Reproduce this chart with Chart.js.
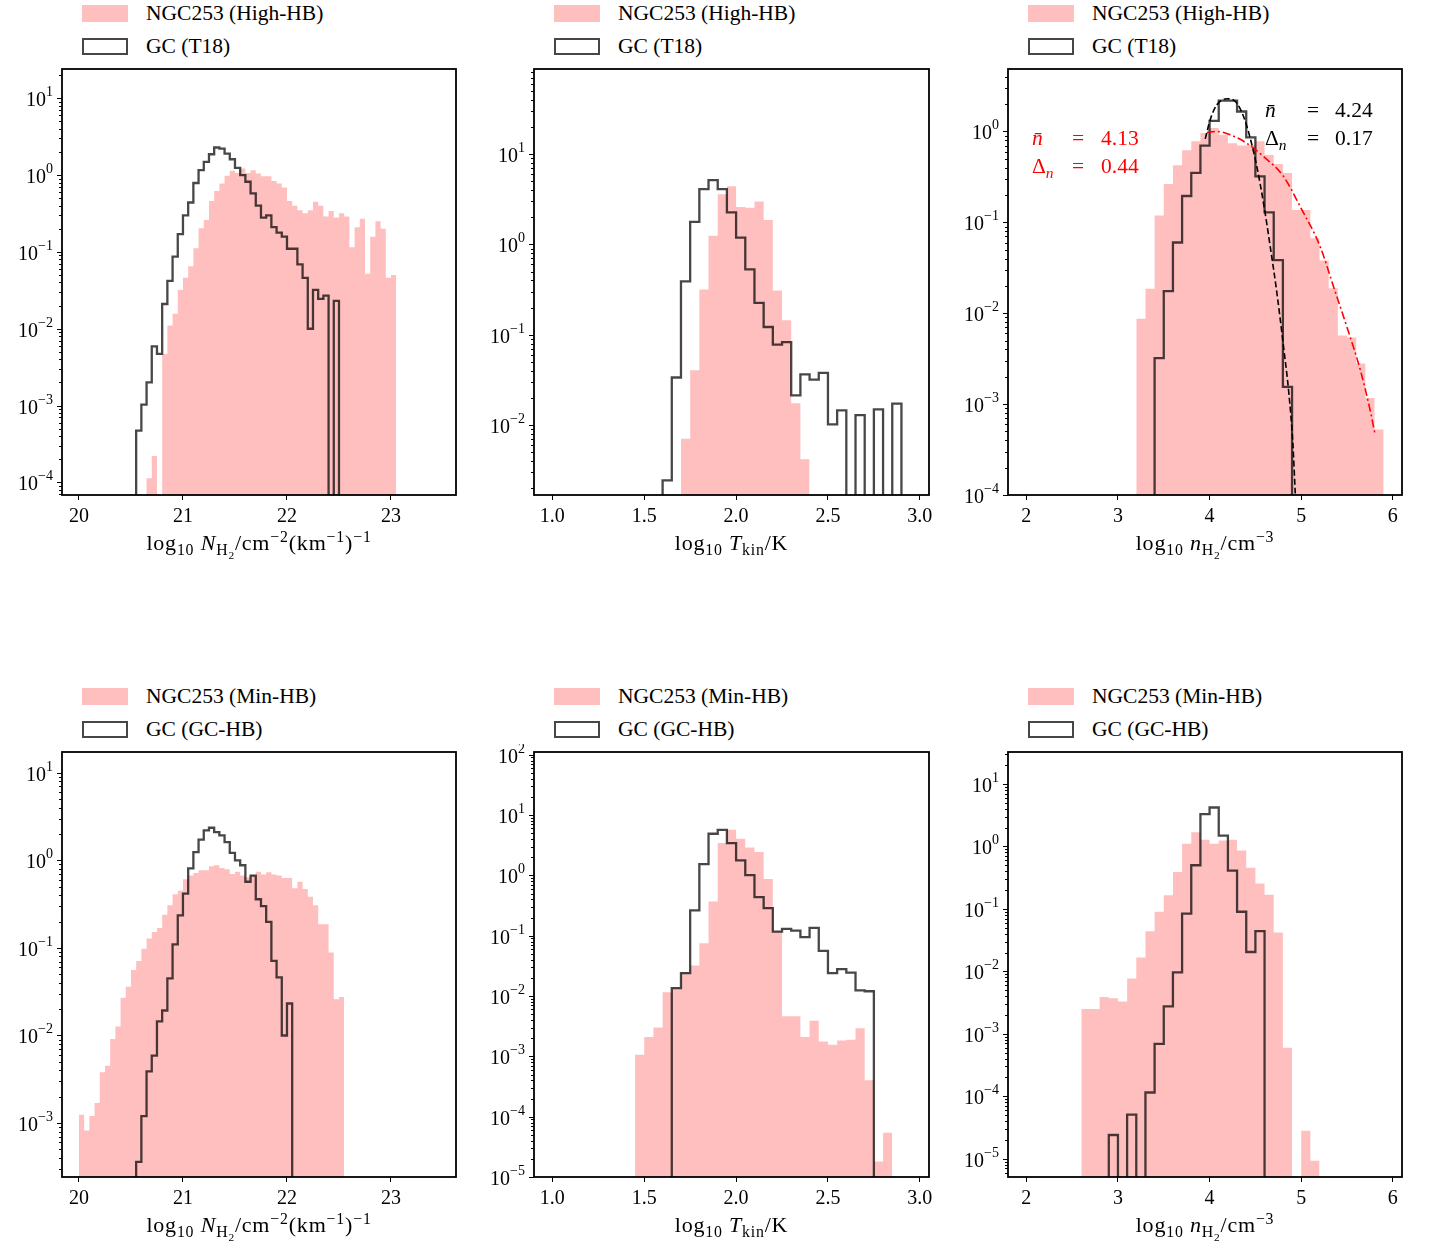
<!DOCTYPE html>
<html>
<head>
<meta charset="utf-8">
<title>NGC253 vs GC histograms</title>
<script src="https://cdn.jsdelivr.net/npm/chart.js@4.4.1/dist/chart.umd.min.js"></script>
<style>
  body { margin: 0; background: #fff; font-family: "Liberation Serif", serif; color: #000; }
  #page { position: relative; width: 1429px; height: 1241px; overflow: hidden; }
  canvas { position: absolute; }
  .txt { position: absolute; font-size: 21.5px; line-height: 1; white-space: nowrap; transform: translateY(-50%); }
  .mid { transform: translate(-50%, -50%); font-size: 22px; letter-spacing: 0.8px; }
  .sw { position: absolute; width: 46px; height: 17px; box-sizing: border-box; }
  sub, sup { font-size: 0.72em; line-height: 0; position: relative; vertical-align: baseline; }
  sub { top: 0.32em; }
  sup { top: -0.5em; }
</style>
</head>
<body>
<div id="page"></div>
<script>
// ---- top row: NGC253 (High-HB) vs GC (T18) ----
// column density, bins of 0.05 dex
const colBin = 0.05;
const colHighStart = 20.55;
const colHigh = [0, 0, 1.13e-4, 2.2e-4, 0, 4.7e-3, 0.011, 0.0157, 0.032, 0.046,
  0.065, 0.112, 0.203, 0.26, 0.46, 0.62, 0.78, 0.98, 1.14, 1.07,
  1.22, 1.07, 1.16, 1.05, 0.97, 0.97, 0.84, 0.78, 0.69, 0.46,
  0.40, 0.35, 0.32, 0.35, 0.45, 0.40, 0.29, 0.34, 0.28, 0.32,
  0.29, 0.115, 0.21, 0.27, 0.052, 0.158, 0.25, 0.20, 0.046, 0.050];
const colT18Start = 20.55;
const colT18 = [4.7e-4, 1.03e-3, 2.0e-3, 5.9e-3, 4.7e-3, 0.021, 0.042, 0.087, 0.171, 0.30,
  0.44, 0.79, 1.16, 1.49, 1.87, 2.29, 2.22, 1.91, 1.61, 1.24,
  1.0, 0.82, 0.58, 0.40, 0.28, 0.30, 0.21, 0.178, 0.158, 0.11,
  0.11, 0.069, 0.046, 0.010, 0.032, 0.0245, 0.027, 0, 0.023];

// kinetic temperature, bins of 0.05 dex
const tkBin = 0.05;
const tkHighStart = 1.70;
const tkHigh = [7.1e-3, 0.0405, 0.318, 1.25, 3.6, 4.4, 2.6, 2.54, 2.99, 1.86, 0.31, 0.145, 0.0175, 4.2e-3];
const tkT18Start = 1.60;
const tkT18 = [2.45e-3, 0.0337, 0.39, 1.78, 4.1, 5.15, 4.1, 2.26, 1.19, 0.53,
  0.226, 0.122, 0.078, 0.083, 0.0214, 0.0366, 0.032, 0.038, 0.0102, 0.0146,
  0, 0.0129, 0, 0.0150, 0, 0.0173];

// volume density, bins of 0.1 dex
const denBin = 0.1;
const denHighStart = 3.2;
const denHigh = [8.7e-3, 0.0186, 0.119, 0.265, 0.425, 0.62, 0.78, 0.96, 1.09, 0.92,
  0.74, 0.70, 0.71, 0.78, 0.55, 0.44, 0.35, 0.137, 0.137, 0.067,
  0.038, 0.0188, 5.7e-3, 5.4e-3, 2.8e-3, 1.17e-3, 5.25e-4];
const denT18Start = 3.4;
const denT18 = [3.2e-3, 0.0175, 0.060, 0.195, 0.35, 0.70, 1.31, 2.18, 2.18, 1.66, 0.86, 0.32, 0.129, 0.0385, 1.55e-3];

// fitted curves
const fitT18X = [3.953, 4.007, 4.08, 4.189, 4.28, 4.371, 4.444, 4.516, 4.589, 4.662, 4.735, 4.807, 4.862, 4.909, 4.935];
const fitT18Y = [0.83, 1.35, 1.97, 2.29, 2.14, 1.46, 0.84, 0.41, 0.162, 0.054, 0.0166, 4.3e-3, 1.42e-3, 3.7e-4, 1.04e-4];
const fitHighX = [3.971, 4.08, 4.225, 4.407, 4.589, 4.807, 4.989, 5.207, 5.353, 5.498, 5.644, 5.753, 5.807];
const fitHighY = [0.975, 1.0, 0.92, 0.74, 0.53, 0.32, 0.149, 0.054, 0.0196, 7.1e-3, 2.4e-3, 8.5e-4, 4.6e-4];

// ---- bottom row: NGC253 (Min-HB) vs GC (GC-HB) ----
const colMinStart = 20.0;
const colMin = [1.24e-3, 8.2e-4, 1.2e-3, 1.7e-3, 3.8e-3, 4.5e-3, 9.1e-3, 0.0127, 0.0269, 0.036,
  0.056, 0.071, 0.098, 0.128, 0.152, 0.169, 0.24, 0.307, 0.41, 0.45,
  0.61, 0.67, 0.72, 0.77, 0.77, 0.86, 0.88, 0.82, 0.79, 0.70,
  0.74, 0.67, 0.64, 0.68, 0.74, 0.69, 0.73, 0.69, 0.67, 0.63,
  0.63, 0.48, 0.57, 0.47, 0.385, 0.307, 0.186, 0.186, 0.089, 0.026, 0.0275];
const colGCStart = 20.55;
const colGC = [3.6e-4, 1.2e-3, 3.9e-3, 5.9e-3, 0.0145, 0.0193, 0.045, 0.110, 0.236, 0.417,
  0.81, 1.24, 1.73, 2.2, 2.36, 2.1, 1.93, 1.62, 1.22, 1.0,
  0.88, 0.57, 0.67, 0.36, 0.30, 0.198, 0.071, 0.046, 0.010, 0.0232];

const tkMinStart = 1.45;
const tkMin = [1.06e-3, 2.1e-3, 3.0e-3, 0.0116, 0.0135, 0.024, 0.032, 0.075, 0.37, 3.43,
  5.7, 4.05, 2.9, 2.43, 0.87, 0.117, 4.6e-3, 4.6e-3, 2.1e-3, 3.9e-3,
  1.76e-3, 1.55e-3, 1.83e-3, 1.88e-3, 2.93e-3, 4.0e-4, 1.8e-5, 5.4e-5];
const tkGCStart = 1.65;
const tkGC = [0.0135, 0.024, 0.262, 1.54, 4.9, 5.7, 3.43, 1.77, 1.01, 0.436,
  0.286, 0.117, 0.13, 0.121, 0.095, 0.135, 0.056, 0.024, 0.0279, 0.0245, 0.0124, 0.012];

const denMinStart = 2.6;
const denMin = [2.5e-3, 2.5e-3, 3.9e-3, 3.7e-3, 3.3e-3, 7.7e-3, 0.0166, 0.044, 0.090, 0.165,
  0.39, 1.1, 1.68, 1.28, 1.1, 1.24, 1.28, 0.86, 0.457, 0.254,
  0.169, 0.042, 6.0e-4, 0, 2.8e-5, 9.3e-6];
const denGCStart = 2.9;
const denGC = [2.4e-5, 0, 5.1e-5, 0, 1.15e-4, 6.9e-4, 2.75e-3, 9.6e-3, 0.084, 0.50,
  3.3, 4.2, 1.49, 0.41, 0.090, 0.0204, 0.044];

// tick labels
const xTicksCol = [20, 21, 22, 23];
const xTicksTk = [1.0, 1.5, 2.0, 2.5, 3.0];
const xTicksDen = [2, 3, 4, 5, 6];

const page = document.getElementById('page');
const PINK = 'rgba(255, 0, 0, 0.25)';
const STEP = 'rgba(0, 0, 0, 0.72)';
const FONT = 'Liberation Serif';

// outline of a histogram; empty bins drop to the floor
function histPath(start, width, vals, floor) {
  const pts = [{x: start, y: floor}];
  vals.forEach((v, i) => {
    const y = v > 0 ? v : floor;
    pts.push({x: start + i * width, y: y}, {x: start + (i + 1) * width, y: y});
  });
  pts.push({x: start + vals.length * width, y: floor});
  return pts;
}

// log y axis drawn matplotlib style: 10^n labels, minor ticks, box frame
const frameAxis = {
  id: 'frameAxis',
  afterDraw(chart) {
    const ctx = chart.ctx, a = chart.chartArea, y = chart.scales.y;
    ctx.save();
    ctx.strokeStyle = '#000';
    ctx.fillStyle = '#000';
    ctx.lineWidth = 1;
    const lo = Math.floor(Math.log10(y.min)), hi = Math.ceil(Math.log10(y.max));
    for (let e = lo; e <= hi; e++) {
      for (let m = 1; m <= 9; m++) {
        const v = m * Math.pow(10, e);
        if (v < y.min * 0.9999 || v > y.max * 1.0001) continue;
        const py = Math.round(y.getPixelForValue(v)) + 0.5;
        const len = m === 1 ? 5 : 3;
        ctx.beginPath();
        ctx.moveTo(a.left - len, py);
        ctx.lineTo(a.left, py);
        ctx.stroke();
        if (m === 1) {
          const ex = e < 0 ? '\u2212' + (-e) : String(e);
          ctx.font = '20px "' + FONT + '"';
          const bw = ctx.measureText('10').width;
          ctx.font = '14px "' + FONT + '"';
          const ew = ctx.measureText(ex).width;
          const right = a.left - 9;
          ctx.fillText(ex, right - ew, py - 3);
          ctx.font = '20px "' + FONT + '"';
          ctx.fillText('10', right - ew - bw, py + 7);
        }
      }
    }
    ctx.lineWidth = 1.8;
    ctx.strokeRect(a.left, a.top, a.right - a.left, a.bottom - a.top);
    ctx.restore();
  }
};

function put(html, x, y, color, mid) {
  const d = document.createElement('div');
  d.className = mid ? 'txt mid' : 'txt';
  d.innerHTML = html;
  d.style.left = x + 'px';
  d.style.top = y + 'px';
  if (color) d.style.color = color;
  page.appendChild(d);
}

function legend(L, T, labels) {
  const s1 = document.createElement('div');
  s1.className = 'sw';
  s1.style.left = (L + 20) + 'px';
  s1.style.top = (T - 64) + 'px';
  s1.style.background = PINK;
  page.appendChild(s1);
  const s2 = document.createElement('div');
  s2.className = 'sw';
  s2.style.left = (L + 20) + 'px';
  s2.style.top = (T - 31) + 'px';
  s2.style.border = '2.8px solid ' + STEP;
  page.appendChild(s2);
  put(labels[0], L + 84, T - 55);
  put(labels[1], L + 84, T - 22);
}

const colTitle = 'log<sub>10</sub> <i>N</i><sub>H<sub>2</sub></sub>/cm<sup>\u22122</sup>(km<sup>\u22121</sup>)<sup>\u22121</sup>';
const tkTitle = 'log<sub>10</sub> <i>T</i><sub>kin</sub>/K';
const denTitle = 'log<sub>10</sub> <i>n</i><sub>H<sub>2</sub></sub>/cm<sup>\u22123</sup>';
const topLegend = ['NGC253 (High-HB)', 'GC (T18)'];
const botLegend = ['NGC253 (Min-HB)', 'GC (GC-HB)'];

const panels = [
  {box: [62, 69, 456, 495], x: [19.837, 23.625], y: [6.84e-5, 24.1], xt: xTicksCol, dec: 0, title: colTitle, leg: topLegend,
   bin: colBin, ngcStart: colHighStart, ngc: colHigh, gcStart: colT18Start, gc: colT18},
  {box: [534, 69, 929, 495], x: [0.9, 3.05], y: [1.69e-3, 87.3], xt: xTicksTk, dec: 1, title: tkTitle, leg: topLegend,
   bin: tkBin, ngcStart: tkHighStart, ngc: tkHigh, gcStart: tkT18Start, gc: tkT18},
  {box: [1008, 69, 1402, 495], x: [1.8, 6.1], y: [1e-4, 4.87], xt: xTicksDen, dec: 0, title: denTitle, leg: topLegend,
   bin: denBin, ngcStart: denHighStart, ngc: denHigh, gcStart: denT18Start, gc: denT18,
   fits: [{xs: fitT18X, ys: fitT18Y, color: '#000', dash: [6, 3]},
          {xs: fitHighX, ys: fitHighY, color: '#ff0000', dash: [8, 3, 2, 3]}]},
  {box: [62, 752, 456, 1177], x: [19.837, 23.625], y: [2.42e-4, 17.3], xt: xTicksCol, dec: 0, title: colTitle, leg: botLegend,
   bin: colBin, ngcStart: colMinStart, ngc: colMin, gcStart: colGCStart, gc: colGC},
  {box: [534, 752, 929, 1177], x: [0.9, 3.05], y: [1e-5, 111], xt: xTicksTk, dec: 1, title: tkTitle, leg: botLegend,
   bin: tkBin, ngcStart: tkMinStart, ngc: tkMin, gcStart: tkGCStart, gc: tkGC},
  {box: [1008, 752, 1402, 1177], x: [1.8, 6.1], y: [5.1e-6, 32.5], xt: xTicksDen, dec: 0, title: denTitle, leg: botLegend,
   bin: denBin, ngcStart: denMinStart, ngc: denMin, gcStart: denGCStart, gc: denGC}
];

panels.forEach(p => {
  const [L, T, R, B] = p.box;
  const cv = document.createElement('canvas');
  cv.width = R - L + 62 + 12;
  cv.height = B - T + 8 + 40;
  cv.style.left = (L - 62) + 'px';
  cv.style.top = (T - 8) + 'px';
  page.appendChild(cv);

  const floor = p.y[0] / 2;
  const datasets = [];
  (p.fits || []).forEach(f => {
    datasets.push({
      data: f.xs.map((x, i) => ({x: x, y: f.ys[i]})),
      borderColor: f.color, borderWidth: 1.6, borderDash: f.dash,
      cubicInterpolationMode: 'monotone', pointRadius: 0, fill: false, clip: 0
    });
  });
  datasets.push({
    data: histPath(p.gcStart, p.bin, p.gc, floor),
    borderColor: STEP, borderWidth: 2.3, borderJoinStyle: 'miter',
    pointRadius: 0, fill: false, clip: 0
  });
  datasets.push({
    data: histPath(p.ngcStart, p.bin, p.ngc, floor),
    borderWidth: 0, borderColor: 'rgba(0,0,0,0)', backgroundColor: PINK,
    pointRadius: 0, fill: 'start', clip: 0
  });

  new Chart(cv, {
    type: 'line',
    data: {datasets: datasets},
    options: {
      responsive: false,
      animation: false,
      devicePixelRatio: 1,
      layout: {padding: {left: 62, top: 8, right: 12, bottom: 0}},
      plugins: {legend: {display: false}, tooltip: {enabled: false}},
      scales: {
        x: {
          type: 'linear', min: p.x[0], max: p.x[1],
          afterBuildTicks: s => { s.ticks = p.xt.map(v => ({value: v})); },
          afterFit: s => { s.height = 40; },
          ticks: {color: '#000', font: {family: FONT, size: 20}, padding: 5, maxRotation: 0, autoSkip: false,
                  callback: v => Number(v).toFixed(p.dec)},
          grid: {drawOnChartArea: false, drawTicks: true, tickLength: 5, color: '#000', lineWidth: 1},
          border: {display: false}
        },
        y: {type: 'logarithmic', display: false, min: p.y[0], max: p.y[1]}
      }
    },
    plugins: [frameAxis]
  });

  legend(L, T, p.leg);
  put(p.title, (L + R) / 2, B + 48, null, true);
});

// fit parameters in the top-right panel
const nbar = '<i>n\u0304</i>';
const dn = '\u0394<sub><i>n</i></sub>';
put(nbar, 1265, 111); put('=', 1307, 111); put('4.24', 1335, 111);
put(dn, 1265, 139); put('=', 1307, 139); put('0.17', 1335, 139);
put(nbar, 1032, 139, '#ff0000'); put('=', 1072, 139, '#ff0000'); put('4.13', 1101, 139, '#ff0000');
put(dn, 1032, 167, '#ff0000'); put('=', 1072, 167, '#ff0000'); put('0.44', 1101, 167, '#ff0000');
</script>
</body>
</html>
